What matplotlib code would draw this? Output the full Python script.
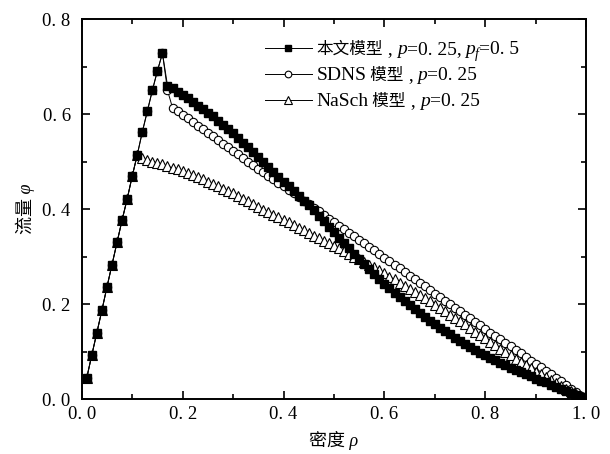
import numpy as np
import matplotlib
matplotlib.use('Agg')
import matplotlib.pyplot as plt
from matplotlib.ticker import MultipleLocator

plt.rcParams['font.family'] = ['Liberation Serif', 'Noto Sans CJK SC', 'DejaVu Sans']

# density grid, one point every 0.01
rho = np.round(np.arange(1, 101) / 100, 2)

# free-flow branch (shared by all three models)
rise = [0.045, 0.093, 0.140, 0.187, 0.236, 0.283, 0.330, 0.377, 0.421, 0.469,
        0.514, 0.562, 0.606, 0.650, 0.691, 0.728]

# this paper's model, p=0.25, pf=0.5
flow_ours = rise + [
    0.660, 0.655, 0.647, 0.640, 0.633, 0.626, 0.618, 0.611, 0.603, 0.595,
    0.586, 0.578, 0.569, 0.560, 0.550, 0.540, 0.530, 0.520, 0.510, 0.500,
    0.489, 0.479, 0.468, 0.458, 0.448, 0.438, 0.428, 0.418, 0.408, 0.397,
    0.386, 0.375, 0.363, 0.352, 0.340, 0.329, 0.318, 0.306, 0.295, 0.285,
    0.274, 0.264, 0.253, 0.243, 0.233, 0.224, 0.215, 0.206, 0.197, 0.189,
    0.181, 0.173, 0.165, 0.157, 0.150, 0.143, 0.136, 0.129, 0.122, 0.116,
    0.110, 0.104, 0.098, 0.092, 0.087, 0.082, 0.076, 0.071, 0.066, 0.061,
    0.057, 0.052, 0.048, 0.043, 0.039, 0.035, 0.030, 0.026, 0.022, 0.018,
    0.013, 0.009, 0.004, 0.000]

# SDNS model, p=0.25
flow_sdns = rise + [
    0.650, 0.613, 0.606, 0.598, 0.591, 0.583, 0.575, 0.568, 0.560, 0.553,
    0.545, 0.537, 0.530, 0.522, 0.515, 0.507, 0.500, 0.492, 0.485, 0.477,
    0.470, 0.463, 0.455, 0.448, 0.440, 0.433, 0.425, 0.418, 0.410, 0.403,
    0.395, 0.388, 0.380, 0.373, 0.365, 0.358, 0.350, 0.343, 0.335, 0.328,
    0.320, 0.313, 0.305, 0.298, 0.290, 0.283, 0.275, 0.268, 0.260, 0.253,
    0.245, 0.238, 0.230, 0.222, 0.215, 0.207, 0.200, 0.192, 0.185, 0.178,
    0.170, 0.163, 0.155, 0.148, 0.140, 0.133, 0.126, 0.118, 0.111, 0.104,
    0.096, 0.089, 0.081, 0.074, 0.067, 0.059, 0.052, 0.044, 0.037, 0.030,
    0.022, 0.015, 0.007, 0.000]

# NaSch model, p=0.25
flow_nasch = rise[:11] + [
    0.507, 0.504, 0.500, 0.497, 0.494, 0.490, 0.487, 0.484, 0.480, 0.476,
    0.472, 0.467, 0.463, 0.458, 0.453, 0.448, 0.443, 0.438, 0.433, 0.427,
    0.422, 0.416, 0.411, 0.405, 0.399, 0.394, 0.388, 0.383, 0.377, 0.372,
    0.366, 0.361, 0.355, 0.350, 0.344, 0.339, 0.333, 0.328, 0.322, 0.317,
    0.311, 0.306, 0.300, 0.295, 0.289, 0.283, 0.277, 0.271, 0.265, 0.258,
    0.252, 0.245, 0.239, 0.232, 0.225, 0.219, 0.212, 0.206, 0.199, 0.192,
    0.185, 0.178, 0.171, 0.164, 0.157, 0.150, 0.142, 0.135, 0.128, 0.121,
    0.114, 0.106, 0.099, 0.092, 0.085, 0.078, 0.071, 0.065, 0.058, 0.052,
    0.046, 0.040, 0.034, 0.028, 0.022, 0.017, 0.011, 0.006, 0.000]

# legend labels split into pieces: (text, italic, subscript, cjk, gap before)
label_heads = ['本文模型', 'SDNS', 'NaSch']
label_tails = [
    [(' ,', False, False, False, 0), ('p', True, False, False, 3),
     ('=0. 25,', False, False, False, 0), ('p', True, False, False, 3),
     ('f', True, True, False, 0), ('=0. 5', False, False, False, 0)],
    [(' 模型', False, False, True, 0), (' ,', False, False, False, 0),
     ('p', True, False, False, 3), ('=0. 25', False, False, False, 0)],
    [(' 模型', False, False, True, 0), (' ,', False, False, False, 0),
     ('p', True, False, False, 3), ('=0. 25', False, False, False, 0)],
]
tick_vals = [0.0, 0.2, 0.4, 0.6, 0.8, 1.0]
tick_text = ['0. 0', '0. 2', '0. 4', '0. 6', '0. 8', '1. 0']

LATIN_SIZE = 14
CJK_SIZE = 12

fig = plt.figure(figsize=(6.1, 4.54), dpi=100)
ax = fig.add_axes([0.134, 0.121, 0.827, 0.837])

h_sdns, = ax.plot(rho, flow_sdns, '-', color='black', lw=0.7, marker='o', ms=6,
                  mfc='white', mec='black', mew=0.8)
h_nasch, = ax.plot(rho[:len(flow_nasch)], flow_nasch, '-', color='black', lw=0.7,
                   marker='^', ms=6.5, mfc='white', mec='black', mew=0.8)
h_ours, = ax.plot(rho, flow_ours, '-', color='black', lw=0.7, marker='s', ms=6,
                  mfc='black', mec='black')

ax.set_xlim(0, 1.0)
ax.set_ylim(0, 0.8)
ax.set_xticks(tick_vals)
ax.set_xticklabels(tick_text)
ax.set_yticks(tick_vals[:5])
ax.set_yticklabels(tick_text[:5])
ax.xaxis.set_minor_locator(MultipleLocator(0.1))
ax.yaxis.set_minor_locator(MultipleLocator(0.1))
ax.tick_params(which='both', direction='in', top=True, right=True, labelsize=13.5, width=1.2)
ax.tick_params(axis='y', pad=8)
ax.tick_params(axis='x', pad=5)
ax.tick_params(which='major', length=6)
ax.tick_params(which='minor', length=3.5)
for s in ax.spines.values():
    s.set_linewidth(1.4)

ax.set_xlabel('密度 ρ', fontsize=13, fontstyle='italic', labelpad=6)
ax.set_ylabel('流量 φ', fontsize=13, fontstyle='italic', labelpad=5)

leg = ax.legend([h_ours, h_sdns, h_nasch], label_heads, loc='upper left',
                bbox_to_anchor=(0.338, 0.975), frameon=False, fontsize=13,
                handlelength=2.6, handletextpad=0.25, labelspacing=0.5, borderpad=0.2,
                markerscale=0.8)
for t, size in zip(leg.get_texts(), [CJK_SIZE, LATIN_SIZE, LATIN_SIZE]):
    t.set_fontsize(size)
fig.canvas.draw()

# append the mixed italic / roman parts of each legend label
for base, tail in zip(leg.get_texts(), label_tails):
    prev = base
    for txt, italic, sub, cjk, gap in tail:
        size = 10 if sub else (CJK_SIZE if cjk else LATIN_SIZE)
        prev = ax.annotate(txt, xy=(1, 0), xycoords=(prev, base),
                           xytext=(gap, -2.5 if sub else 0), textcoords='offset points',
                           ha='left', va='bottom', fontsize=size,
                           fontstyle='italic' if italic else 'normal', zorder=6)

fig.savefig('out.png', dpi=100)
